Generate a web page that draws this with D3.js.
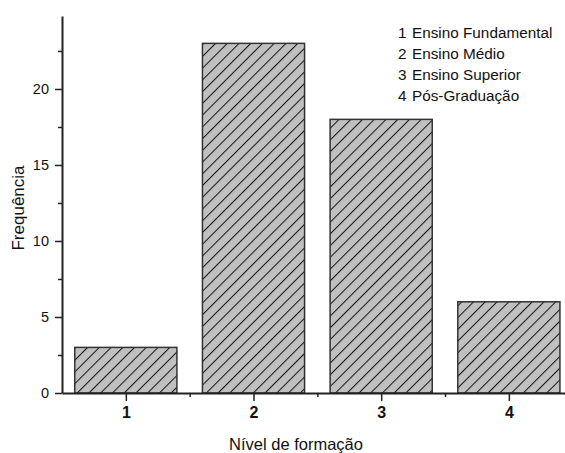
<!DOCTYPE html>
<html><head><meta charset="utf-8">
<script src="https://cdn.jsdelivr.net/npm/d3@7"></script>
<style>html,body{margin:0;padding:0;background:#fff;}svg{display:block;}</style>
</head><body>
<script>
const categories = [1, 2, 3, 4];
const frequencies = [3, 23, 18, 6];
const legendNumbers = ["1", "2", "3", "4"];
const legendLabels = ["Ensino Fundamental", "Ensino Médio", "Ensino Superior", "Pós-Graduação"];
const yTicks = [0, 5, 10, 15, 20];
const yMinorTicks = [2.5, 7.5, 12.5, 17.5, 22.5];
const xMinorTicks = [1.5, 2.5, 3.5];

const W = 565, H = 453;
const svg = d3.select("body").append("svg").attr("width", W).attr("height", H);
const font = "'Liberation Sans', Arial, sans-serif";

const defs = svg.append("defs");
const sp = 8.3;
const pat = defs.append("pattern").attr("id", "hatch").attr("patternUnits", "userSpaceOnUse")
  .attr("width", sp).attr("height", sp).attr("patternTransform", "rotate(45)");
pat.append("rect").attr("width", sp).attr("height", sp).attr("fill", "#c0c0c0");
pat.append("line").attr("x1", 0.5).attr("y1", 0).attr("x2", 0.5).attr("y2", sp)
  .attr("stroke", "#111").attr("stroke-width", 1);

const x = d3.scaleLinear().domain([0.5, 4.5]).range([62, 572.7]);
const y = d3.scaleLinear().domain([0, 24.8]).range([393, 16]);
const bw = (x(2) - x(1)) * 0.8;

svg.append("g").selectAll("rect").data(categories).join("rect")
  .attr("x", d => x(d) - bw / 2)
  .attr("y", (d, i) => y(frequencies[i]))
  .attr("width", bw)
  .attr("height", (d, i) => y(0) - y(frequencies[i]))
  .attr("fill", "url(#hatch)")
  .attr("stroke", "#333").attr("stroke-width", 1.5);

// Y axis
const ya = svg.append("g").attr("transform", `translate(${x(0.5)},0)`)
  .call(d3.axisLeft(y).tickValues(yTicks).tickSize(7).tickSizeOuter(0).tickPadding(6));
ya.select(".domain").attr("stroke", "#222").attr("stroke-width", 2);
ya.selectAll(".tick line").attr("stroke", "#222").attr("stroke-width", 1.5);
ya.selectAll("text").attr("font-family", font).attr("font-size", 14.5).attr("fill", "#111");
svg.append("g").attr("transform", `translate(${x(0.5)},0)`)
  .call(d3.axisLeft(y).tickValues(yMinorTicks).tickSize(4).tickFormat(""))
  .call(g => g.select(".domain").remove())
  .selectAll("line").attr("stroke", "#222").attr("stroke-width", 1.5);

// X axis
const xa = svg.append("g").attr("transform", `translate(0,${y(0)})`)
  .call(d3.axisBottom(x).tickValues(categories).tickFormat(d3.format("d")).tickSize(8).tickSizeOuter(0).tickPadding(6));
xa.select(".domain").attr("stroke", "#222").attr("stroke-width", 2);
xa.selectAll(".tick line").attr("stroke", "#222").attr("stroke-width", 1.5);
xa.selectAll("text").attr("font-family", font).attr("font-size", 16).attr("font-weight", "bold").attr("fill", "#111");
svg.append("g").attr("transform", `translate(0,${y(0)})`)
  .call(d3.axisBottom(x).tickValues(xMinorTicks).tickSize(4).tickFormat(""))
  .call(g => g.select(".domain").remove())
  .selectAll("line").attr("stroke", "#222").attr("stroke-width", 1.5);

// Axis titles
svg.append("text").attr("x", 296).attr("y", 450).attr("text-anchor", "middle")
  .attr("font-family", font).attr("font-size", 16.5).attr("fill", "#111").text("Nível de formação");
svg.append("text").attr("transform", `translate(24,208) rotate(-90)`)
  .attr("text-anchor", "middle").attr("font-family", font).attr("font-size", 17).attr("fill", "#111").text("Frequência");

// Legend
const lg = svg.append("g");
lg.selectAll("text.num").data(legendNumbers).join("text").attr("class", "num")
  .attr("x", 398).attr("y", (d, i) => 38 + i * 21.1)
  .attr("font-family", font).attr("font-size", 15.3).attr("fill", "#111").text(d => d);
lg.selectAll("text.lab").data(legendLabels).join("text").attr("class", "lab")
  .attr("x", 412).attr("y", (d, i) => 38 + i * 21.1)
  .attr("font-family", font).attr("font-size", 15.3).attr("fill", "#111").text(d => d);
</script>
</body></html>
